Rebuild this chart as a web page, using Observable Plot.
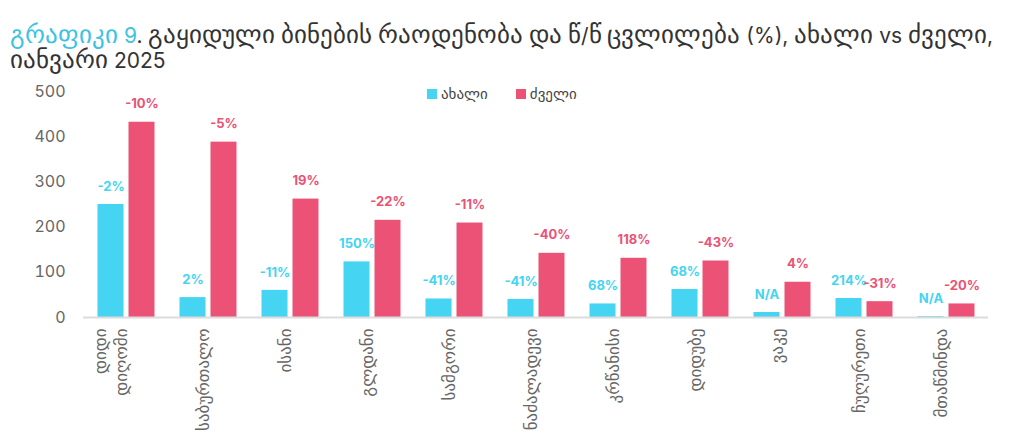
<!DOCTYPE html>
<html>
<head>
<meta charset="utf-8">
<script src="https://cdn.jsdelivr.net/npm/d3@7"></script>
<script src="https://cdn.jsdelivr.net/npm/@observablehq/plot@0.6"></script>
<style>
  @font-face { font-family: "GeoTitle"; src: local("DejaVu Sans"), local("DejaVuSans"); unicode-range: U+10A0-10FF, U+1C90-1CBF; size-adjust: 117%; }
  body { margin: 0; background: #fff; font-family: Inter, "DejaVu Sans", sans-serif; }
  #wrap { position: relative; width: 1012px; height: 439px; overflow: hidden; background: #fff; }
  #title { position: absolute; left: 10px; top: 23px; font-family: "GeoTitle", Inter, "DejaVu Sans", sans-serif; font-size: 21px; line-height: 25px; color: #333; white-space: nowrap; }
  #title .hl { color: #3cc3df; }
  #chart { position: absolute; left: 0; top: 78px; }
  #legend { position: absolute; left: 427px; top: 84px; font-size: 15px; color: #444; display: flex; gap: 28px; align-items: center; }
  #legend .item { display: flex; align-items: center; gap: 4px; }
  #legend .sw { width: 10px; height: 10px; display: inline-block; }
</style>
</head>
<body>
<div id="wrap">
  <div id="title"><span class="hl">გრაფიკი 9</span>. გაყიდული ბინების რაოდენობა და წ/წ ცვლილება (%), ახალი vs ძველი,<br>იანვარი 2025</div>
  <div id="chart"></div>
  <div id="legend"></div>
</div>
<script>
const districts = ["დიდი დიღომი", "საბურთალო", "ისანი", "გლდანი", "სამგორი", "ნაძალადევი", "კრწანისი", "დიდუბე", "ვაკე", "ჩუღურეთი", "მთაწმინდა"];
const newValues = [250, 44, 60, 123, 41, 40, 30, 62, 11, 42, 2];
const oldValues = [432, 388, 262, 215, 209, 142, 131, 125, 78, 35, 30];
const newChange = ["-2%", "2%", "-11%", "150%", "-41%", "-41%", "68%", "68%", "N/A", "214%", "N/A"];
const oldChange = ["-10%", "-5%", "19%", "-22%", "-11%", "-40%", "118%", "-43%", "4%", "-31%", "-20%"];
const yTicks = [0, 100, 200, 300, 400, 500];
const seriesNames = ["ახალი", "ძველი"];
const colors = ["#45d4f2", "#eb5275"];

const newData = districts.map((d, i) => ({district: d, value: newValues[i], label: newChange[i]}));
const oldData = districts.map((d, i) => ({district: d, value: oldValues[i], label: oldChange[i]}));
const axisLabels = districts.map(d => ({district: d, text: d === "დიდი დიღომი" ? "დიდი\nდიღომი" : d}));

const off = 15.5;
const chart = Plot.plot({
  width: 1012,
  height: 361,
  marginTop: 13,
  marginBottom: 122,
  marginLeft: 83,
  marginRight: 24,
  style: { color: "#666", fontSize: "16px", fontFamily: "Inter, 'DejaVu Sans', sans-serif", background: "transparent" },
  x: { type: "band", domain: districts, paddingInner: 0.684, paddingOuter: 0.342, axis: null },
  y: { domain: [0, 500], ticks: yTicks, tickSize: 0, tickPadding: 18, label: null },
  marks: [
    Plot.barY(newData, { x: "district", y: "value", fill: colors[0], dx: -off }),
    Plot.barY(oldData, { x: "district", y: "value", fill: colors[1], dx: off }),
    Plot.ruleY([0], { stroke: "#dcdcdc", strokeWidth: 2 }),
    Plot.text(newData, { x: "district", y: "value", text: "label", fill: colors[0], dx: -off, dy: -18, fontSize: 13, fontWeight: 700 }),
    Plot.text(oldData, { x: "district", y: "value", text: "label", fill: colors[1], dx: off, dy: -18, fontSize: 13, fontWeight: 700 }),
    Plot.text(axisLabels, { x: "district", frameAnchor: "bottom", text: "text", rotate: -90, textAnchor: "end", dy: 11, fontSize: 17, fill: "#666", lineHeight: 1.2 })
  ]
});
document.getElementById("chart").appendChild(chart);

const legend = document.getElementById("legend");
seriesNames.forEach((n, i) => {
  const item = document.createElement("div");
  item.className = "item";
  item.innerHTML = `<span class="sw" style="background:${colors[i]}"></span><span>${n}</span>`;
  legend.appendChild(item);
});
</script>
</body>
</html>
